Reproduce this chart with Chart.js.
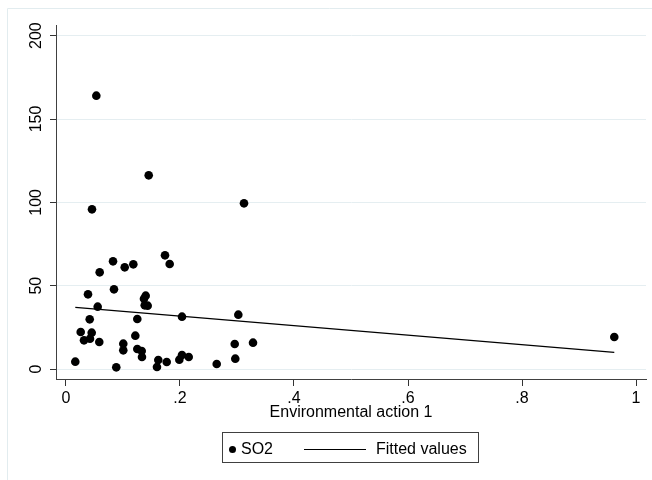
<!DOCTYPE html>
<html>
<head>
<meta charset="utf-8">
<script src="https://cdn.jsdelivr.net/npm/chart.js@4.4.1/dist/chart.umd.min.js"></script>
<style>
    html, body { margin: 0; padding: 0; background: #fff; }
    #wrap { position: relative; width: 652px; height: 480px; font-family: "Liberation Sans", Arial, sans-serif; color: #000; }
    #chart { position: absolute; left: 0; top: 0; }
    .legend-box { position: absolute; left: 222px; top: 432px; width: 255px; height: 29px; border: 1px solid #404040; }
    .legend-dot { position: absolute; left: 229px; top: 446px; width: 7px; height: 7px; border-radius: 50%; background: #000; }
    .legend-line { position: absolute; left: 304px; top: 449px; width: 62px; border-top: 1px solid #000; }
    .legend-text { position: absolute; top: 434px; height: 30px; line-height: 30px; font-size: 16px; white-space: nowrap; }
</style>
</head>
<body>
<div id="wrap">
    <canvas id="chart" width="652" height="480"></canvas>
    <div class="legend-box"></div>
    <div class="legend-dot"></div>
    <span class="legend-text" style="left:241px">SO2</span>
    <div class="legend-line"></div>
    <span class="legend-text" style="left:376px">Fitted values</span>
</div>
<script>
// Environmental action 1 (x) and SO2 (y)
const actionValues = [
    0.1451, 0.0456, 0.3123, 0.0825, 0.1181, 0.1030, 0.0591, 0.1737, 0.1819, 0.0386,
    0.0842, 0.1398, 0.1368, 0.1381, 0.1433, 0.0556, 0.0416, 0.1251, 0.2035, 0.3023,
    0.0258, 0.0451, 0.0316, 0.0421, 0.0584, 0.1216, 0.1005, 0.1005, 0.1251, 0.1328,
    0.1333, 0.2960, 0.3281, 0.0163, 0.0882, 0.1619, 0.1596, 0.1767, 0.1988, 0.2035,
    0.2153, 0.2644, 0.2970, 0.0532, 0.9619
];
const so2Values = [
    116.2, 95.8, 99.4, 64.6, 62.8, 61.0, 58.0, 68.2, 63.0, 44.8,
    47.8, 44.0, 42.2, 38.2, 38.0, 37.4, 29.8, 30.0, 31.4, 32.6,
    22.2, 21.8, 17.2, 18.2, 16.2, 20.0, 15.2, 11.2, 12.0, 10.8,
    7.2, 15.0, 15.8, 4.4, 1.0, 5.4, 1.2, 4.2, 5.6, 8.4,
    7.2, 3.0, 6.2, 164.0, 19.2
];

// fitted values at the two ends of the x range
const fittedX = [0.0163, 0.9619];
const fittedY = [37.0, 10.0];

const xTicks = [0, 0.2, 0.4, 0.6, 0.8, 1];
const xTickLabels = ["0", ".2", ".4", ".6", ".8", "1"];
const yTicks = [0, 50, 100, 150, 200];
const yTickLabels = ["0", "50", "100", "150", "200"];
const xTitle = "Environmental action 1";

const fontFamily = '"Liberation Sans", Arial, sans-serif';

const decor = {
    id: "decor",
    beforeDraw(chart) {
        const ctx = chart.ctx;
        ctx.save();
        ctx.strokeStyle = "#e2ecef";
        ctx.lineWidth = 1;
        ctx.beginPath();
        ctx.moveTo(7.5, 480);
        ctx.lineTo(7.5, 8.5);
        ctx.lineTo(652, 8.5);
        ctx.stroke();
        ctx.restore();
    },
    afterDraw(chart) {
        const ctx = chart.ctx;
        const y = chart.scales.y;
        const area = chart.chartArea;
        ctx.save();
        ctx.fillStyle = "#000";
        ctx.font = "16px " + fontFamily;
        ctx.textAlign = "center";
        ctx.textBaseline = "middle";
        // y tick labels, rotated like Stata draws them
        yTicks.forEach((v, i) => {
            ctx.save();
            ctx.translate(37, y.getPixelForValue(v));
            ctx.rotate(-Math.PI / 2);
            ctx.fillText(yTickLabels[i], 0, 0);
            ctx.restore();
        });
        ctx.fillText(xTitle, (area.left + area.right) / 2, 413);
        ctx.restore();
    }
};

const points = actionValues.map((x, i) => ({ x: x, y: so2Values[i] }));
const fitted = fittedX.map((x, i) => ({ x: x, y: fittedY[i] }));

new Chart(document.getElementById("chart"), {
    type: "scatter",
    data: {
        datasets: [
            {
                label: "Fitted values",
                data: fitted,
                showLine: true,
                borderColor: "#000",
                borderWidth: 1.3,
                pointRadius: 0,
                order: 0
            },
            {
                label: "SO2",
                data: points,
                backgroundColor: "#000",
                borderWidth: 0,
                pointRadius: 4.3,
                order: 1
            }
        ]
    },
    options: {
        responsive: false,
        animation: false,
        layout: { padding: { top: 25, right: 6, left: 0, bottom: 0 } },
        plugins: { legend: { display: false }, tooltip: { enabled: false } },
        scales: {
            x: {
                type: "linear",
                min: -0.01754,
                max: 1.01754,
                afterBuildTicks: s => { s.ticks = xTicks.map(v => ({ value: v })); },
                afterFit: s => { s.height = 101; },
                grid: { drawOnChartArea: false, tickLength: 7, tickColor: "#333" },
                border: { color: "#404040", width: 1 },
                ticks: {
                    color: "#000",
                    font: { size: 16, family: fontFamily },
                    padding: 3,
                    maxRotation: 0,
                    callback: (v, i) => xTickLabels[i]
                }
            },
            y: {
                type: "linear",
                min: -6,
                max: 206.4,
                afterBuildTicks: s => { s.ticks = yTicks.map(v => ({ value: v })); },
                afterFit: s => { s.width = 56; },
                grid: { color: "#e5eef1", tickLength: 6, tickColor: "#333" },
                border: { color: "#404040", width: 1 },
                ticks: { display: false }
            }
        }
    },
    plugins: [decor]
});
</script>
</body>
</html>
